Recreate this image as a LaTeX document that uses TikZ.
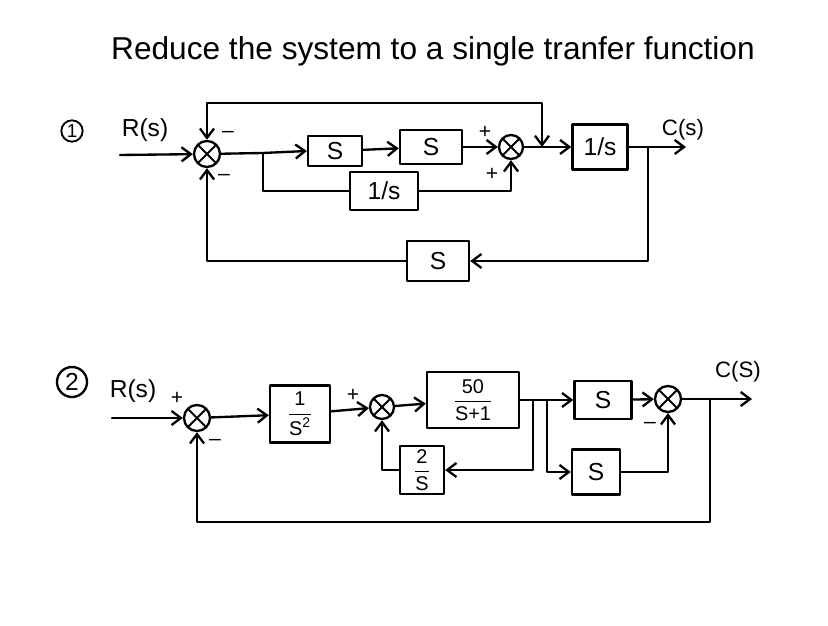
\documentclass[tikz,border=0pt]{standalone}
\usepackage{fontspec}
\usepackage{amsmath}
\setmainfont{Liberation Sans}
\usetikzlibrary{arrows.meta,calc}
\begin{document}
\begin{tikzpicture}[x=0.03cm,y=-0.03cm,
  line width=2pt, line join=round, line cap=round,
  blk/.style={draw, line width=2pt, inner sep=0pt, font=\fontsize{21}{23}\selectfont},
  frac/.style={font=\fontsize{17}{19}\selectfont},
  sumj/.style={draw, circle, line width=2pt, inner sep=0pt, minimum size=#1,
    path picture={\draw[line width=1.6pt] (path picture bounding box.north west) -- (path picture bounding box.south east)
      (path picture bounding box.north east) -- (path picture bounding box.south west);}},
  sumj/.default=0.78cm,
  arr/.style={-{Straight Barb[length=8pt,width=12pt,line width=2pt]}},
  sgn/.style={font=\fontsize{18}{18}\selectfont, inner sep=0pt},
  lbl/.style={font=\fontsize{21}{23}\selectfont, inner sep=0pt}
]
\fill[white] (0,0) rectangle (828,626);
\useasboundingbox (0,0) rectangle (828,626);

% title
\node[font=\fontsize{27}{30}\selectfont, inner sep=0pt] (title) at (433,51) {Reduce the system to a single tranfer function};

% ---------- diagram 1 ----------
\node[circle,draw,line width=1.6pt,inner sep=0pt,minimum size=0.64cm,font=\fontsize{16}{16}\selectfont] (n1) at (72,131) {1};
\node[lbl] (R1) at (145,130) {R(s)};
\coordinate (in1) at (120,155);
\node[sumj] (s1) at (207,154) {};
\coordinate (b1) at (263,153);
\node[blk,minimum width=1.62cm,minimum height=0.9cm] (S1) at (335,151) {S};
\node[blk,minimum width=1.86cm,minimum height=1.02cm] (S2) at (431,147) {S};
\node[blk,minimum width=2.04cm,minimum height=1.14cm] (I1) at (384,191) {1/s};
\node[sumj=0.72cm] (s2) at (511,147) {};
\coordinate (t1) at (542,147);
\coordinate (tc) at (207,103);
\node[blk,minimum width=1.65cm,minimum height=1.35cm] (I2) at (600,147) {1/s};
\coordinate (o1) at (686,147);
\coordinate (b2) at (648,147);
\node[font=\fontsize{19}{21}\selectfont, inner sep=0pt] (C1) at (683,130) {C(s)};
\node[blk,minimum width=1.86cm,minimum height=1.2cm] (S3) at (438,261) {S};

\draw[arr] (in1) -- (s1);
\draw (s1) -- (b1);
\draw[arr] (b1) -- (S1.west);
\draw[arr] (S1) -- (S2);
\draw (b1) |- (I1.west);
\draw[arr] (I1.east) -| (s2.south);
\draw[arr] (S2) -- (s2);
\draw[arr] (s2) -- (I2);
\draw[{Straight Barb[length=8pt,width=12pt,line width=2pt]}-{Straight Barb[length=8pt,width=12pt,line width=2pt]}] (t1) |- (tc) -- (s1.north);
\draw[arr] (I2.east) -- (o1);
\draw[arr] (b2) |- (S3.east);
\draw[arr] (S3.west) -| (s1.south);

\node[sgn] at (228,134) {\textendash};
\node[sgn] at (224,177) {\textendash};
\node[sgn] at (485,132) {+};
\node[sgn] at (492,174) {+};

% ---------- diagram 2 ----------
\node[circle,draw,line width=2pt,inner sep=0pt,minimum size=0.9cm,font=\fontsize{21}{21}\selectfont] (n2) at (72,382) {2};
\node[lbl] (R2) at (133,391) {R(s)};
\node[sgn] at (177,398) {+};
\coordinate (in2) at (112,418);
\node[sumj] (a1) at (197,418) {};
\node[blk,frac,minimum width=1.8cm,minimum height=1.71cm] (G1) at (300,414) {$\dfrac{\text{1}}{\text{S}^{\text{2}}}$};
\node[sgn] at (353,395) {+};
\node[sumj=0.72cm] (a2) at (382,407) {};
\node[blk,frac,minimum width=2.76cm,minimum height=1.68cm] (G2) at (473,400) {$\dfrac{\text{50}}{\text{S+1}}$};
\coordinate (c1) at (533,400);
\coordinate (c2) at (547,400);
\node[blk,minimum width=1.71cm,minimum height=1.14cm] (S4) at (603,400) {S};
\node[blk,frac,minimum width=1.32cm,minimum height=1.44cm] (H) at (422,470) {$\dfrac{\text{2}}{\text{S}}$};
\node[blk,minimum width=1.44cm,minimum height=1.35cm] (S5) at (596,472) {S};
\node[sumj] (a3) at (668,399) {};
\node[sgn] at (650,425) {\textendash};
\node[sgn] at (215,442) {\textendash};
\coordinate (o2) at (752,399);
\coordinate (d1) at (710,399);
\coordinate (d1b) at (710,522);
\node[font=\fontsize{19}{21}\selectfont, inner sep=0pt] (C2) at (738,372) {C(S)};

\draw[arr] (in2) -- (a1);
\draw[arr] (a1) -- (G1);
\draw[arr] (G1) -- (a2);
\draw[arr] (a2) -- (G2);
\draw[arr] (G2.east) -- (S4.west);
\draw[arr] (c1) |- (H.east);
\draw[arr] (H.west) -| (a2.south);
\draw[arr] (c2) |- (S5.west);
\draw[arr] (S4) -- (a3);
\draw[arr] (S5.east) -| (a3.south);
\draw[arr] (a3) -- (o2);
\draw[arr] (d1) -- (d1b) -| (a1.south);
\end{tikzpicture}
\end{document}
